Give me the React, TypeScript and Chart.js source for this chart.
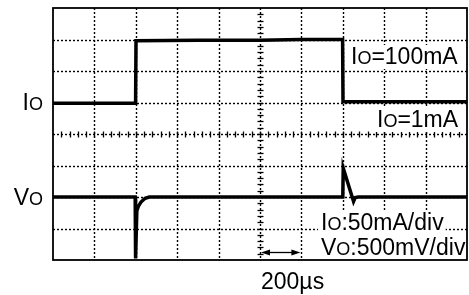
import React, { useEffect, useRef } from "react";
import { Chart, registerables } from "chart.js";

Chart.register(...registerables);

// time axis: 200 µs / div, 10 divisions
const timeDivs = [0, 200, 400, 600, 800, 1000, 1200, 1400, 1600, 1800, 2000];
const Y_DIVS = 8;

// Output current trace (mA), 50 mA/div
const ioTime = [0, 200, 399, 401, 700, 1000, 1200, 1399, 1401, 1700, 2000];
const ioCurrent = [0, 0, 0, 99, 100, 100, 101, 101, 2, 2, 2];

// Output voltage deviation trace (mV), 500 mV/div
const voTime = [0, 300, 397, 399, 405, 412, 425, 445, 465, 800, 1200, 1400, 1402, 1452, 1460, 1475, 1800, 2000];
const voDeviation = [0, 0, 0, -975, -220, -150, -80, -20, 0, 0, 0, 0, 460, -70, -10, 0, 0, 0];

const FONT = '"Liberation Sans", Arial, Helvetica, sans-serif';
const BIG = 23;
const SMALL = 18;

type Part = [string, number];

function partsWidth(ctx: CanvasRenderingContext2D, parts: Part[]) {
  let w = 0;
  for (const [t, s] of parts) {
    ctx.font = `${s}px ${FONT}`;
    w += ctx.measureText(t).width;
  }
  return w;
}

function drawParts(ctx: CanvasRenderingContext2D, parts: Part[], x: number, y: number) {
  let cx = x;
  for (const [t, s] of parts) {
    ctx.font = `${s}px ${FONT}`;
    ctx.fillText(t, cx, y);
    cx += ctx.measureText(t).width;
  }
}

const scopePlugin = {
  id: "scopeGrid",
  beforeDatasetsDraw(chart: any) {
    const { ctx, chartArea } = chart;
    const { left, right, top, bottom } = chartArea;
    const xs = chart.scales.x;
    const divH = (bottom - top) / Y_DIVS;
    const divW = (right - left) / (timeDivs.length - 1);
    ctx.save();
    ctx.strokeStyle = "#000";
    ctx.lineWidth = 1.4;
    ctx.setLineDash([2, 2]);
    for (const t of timeDivs.slice(1, -1)) {
      const px = Math.round(xs.getPixelForValue(t)) + 0.5;
      ctx.beginPath();
      ctx.moveTo(px, top);
      ctx.lineTo(px, bottom);
      ctx.stroke();
    }
    for (let d = 1; d < Y_DIVS; d++) {
      const py = Math.round(bottom - d * divH) + 0.5;
      ctx.beginPath();
      ctx.moveTo(left, py);
      ctx.lineTo(right, py);
      ctx.stroke();
    }
    ctx.setLineDash([]);
    ctx.lineWidth = 1.3;
    const cx = Math.round(xs.getPixelForValue(1000)) + 0.5;
    for (let k = 1; k < Y_DIVS * 5; k++) {
      const py = Math.round(bottom - (k * divH) / 5) + 0.5;
      ctx.beginPath();
      ctx.moveTo(cx - 3, py);
      ctx.lineTo(cx + 3, py);
      ctx.stroke();
    }
    const cy = Math.round(top + (Y_DIVS / 2) * divH) + 0.5;
    for (let k = 1; k < (timeDivs.length - 1) * 5; k++) {
      const px = Math.round(left + (k * divW) / 5) + 0.5;
      ctx.beginPath();
      ctx.moveTo(px, cy - 3);
      ctx.lineTo(px, cy + 3);
      ctx.stroke();
    }
    ctx.restore();
  },
  afterDatasetsDraw(chart: any) {
    const { ctx, chartArea } = chart;
    const { left, right, top, bottom } = chartArea;
    ctx.save();
    ctx.textBaseline = "alphabetic";
    ctx.textAlign = "left";

    const boxed: { parts: Part[]; x: number; y: number; padB?: number }[] = [
      { parts: [["I", BIG], ["O", SMALL], ["=100mA", BIG]], x: 351, y: 64 },
      { parts: [["I", BIG], ["O", SMALL], ["=1mA", BIG]], x: 377, y: 127 },
      { parts: [["I", BIG], ["O", SMALL], [":50mA/div", BIG]], x: 321, y: 230 },
      { parts: [["V", BIG], ["O", SMALL], [":500mV/div", BIG]], x: 321, y: 255, padB: 6 },
    ];
    for (const b of boxed) {
      const w = partsWidth(ctx, b.parts);
      ctx.fillStyle = "#fff";
      ctx.fillRect(b.x - 3, b.y - 19, w + 5, 24 + (b.padB || 0));
      ctx.fillStyle = "#000";
      drawParts(ctx, b.parts, b.x, b.y);
    }

    // left channel labels
    const io: Part[] = [["I", BIG], ["O", SMALL]];
    const vo: Part[] = [["V", BIG], ["O", SMALL]];
    drawParts(ctx, io, 43 - partsWidth(ctx, io), 110);
    drawParts(ctx, vo, 43 - partsWidth(ctx, vo), 205);

    // time scale arrow
    const xs = chart.scales.x;
    const ax1 = xs.getPixelForValue(1000) + 1;
    const ax2 = xs.getPixelForValue(1200) - 1;
    const ay = 252.5;
    ctx.strokeStyle = "#000";
    ctx.fillStyle = "#000";
    ctx.lineWidth = 1.3;
    ctx.beginPath();
    ctx.moveTo(ax1 + 6, ay);
    ctx.lineTo(ax2 - 6, ay);
    ctx.stroke();
    ctx.beginPath();
    ctx.moveTo(ax1, ay);
    ctx.lineTo(ax1 + 9, ay - 3);
    ctx.lineTo(ax1 + 9, ay + 3);
    ctx.closePath();
    ctx.fill();
    ctx.beginPath();
    ctx.moveTo(ax2, ay);
    ctx.lineTo(ax2 - 9, ay - 3);
    ctx.lineTo(ax2 - 9, ay + 3);
    ctx.closePath();
    ctx.fill();

    ctx.font = `${BIG}px ${FONT}`;
    ctx.fillText("200\u00b5s", 261, 289);

    // frame
    ctx.lineWidth = 1.8;
    ctx.strokeRect(left, top, right - left, bottom - top);
    ctx.restore();
  },
};

export default function App() {
  const ref = useRef<HTMLCanvasElement | null>(null);
  useEffect(() => {
    if (!ref.current) return;
    const chart = new Chart(ref.current, {
      type: "line",
      data: {
        datasets: [
          {
            label: "Io",
            data: ioTime.map((t, i) => ({ x: t, y: ioCurrent[i] })),
            yAxisID: "yI",
            borderColor: "#000",
            borderWidth: 3.5,
            pointRadius: 0,
            tension: 0,
            fill: false,
          },
          {
            label: "Vo",
            data: voTime.map((t, i) => ({ x: t, y: voDeviation[i] })),
            yAxisID: "yV",
            borderColor: "#000",
            borderWidth: 3.5,
            pointRadius: 0,
            tension: 0,
            fill: false,
          },
        ],
      },
      options: {
        animation: false,
        responsive: false,
        devicePixelRatio: 1,
        layout: { padding: { left: 53, top: 8, right: 2, bottom: 35 } },
        plugins: { legend: { display: false }, tooltip: { enabled: false } },
        events: [],
        scales: {
          x: { type: "linear", min: 0, max: 2000, display: false },
          yI: { type: "linear", min: -249, max: 151, display: false },
          yV: { type: "linear", min: -1000, max: 3000, display: false },
        },
      },
      plugins: [scopePlugin],
    });
    return () => chart.destroy();
  }, []);
  return (
    <div style={{ position: "fixed", left: 0, top: 0, width: 469, height: 295, background: "#fff" }}>
      <canvas ref={ref} width={469} height={295} style={{ display: "block", width: 469, height: 295 }} />
    </div>
  );
}
